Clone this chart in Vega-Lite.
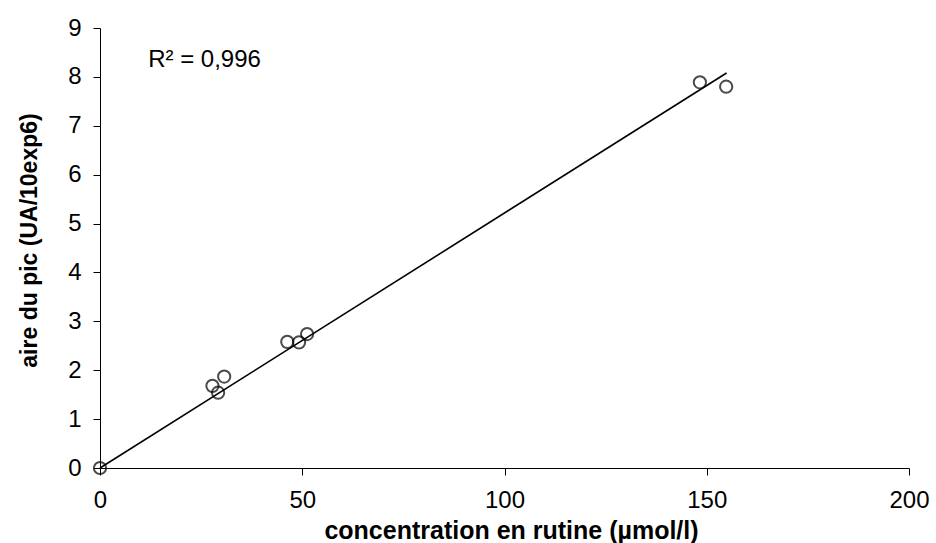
{
  "$schema": "https://vega.github.io/schema/vega-lite/v6.json",
  "autosize": "none",
  "width": 809,
  "height": 440,
  "padding": {"left": 100, "top": 28, "right": 27, "bottom": 75},
  "background": "white",
  "config": {
    "view": {"stroke": null},
    "font": "Liberation Sans",
    "axis": {"grid": false, "domainColor": "#000", "tickColor": "#000", "labelColor": "#000", "titleColor": "#000", "labelFont": "Liberation Sans", "titleFont": "Liberation Sans"}
  },
  "datasets": {
    "points": [
      {"c": 0, "a": 0},
      {"c": 27.8, "a": 1.68},
      {"c": 29.2, "a": 1.54},
      {"c": 30.7, "a": 1.87},
      {"c": 46.3, "a": 2.58},
      {"c": 49.2, "a": 2.57},
      {"c": 51.2, "a": 2.74},
      {"c": 148.3, "a": 7.89},
      {"c": 154.8, "a": 7.8}
    ],
    "fit": [
      {"c": 0, "a": 0},
      {"c": 154.9, "a": 8.08}
    ],
    "label": [
      {"c": 11.9, "a": 8.34, "t": "R² = 0,996"}
    ]
  },
  "layer": [
    {
      "data": {"name": "fit"},
      "mark": {"type": "line", "color": "#000", "strokeWidth": 1.6},
      "encoding": {
        "x": {
          "field": "c", "type": "quantitative",
          "scale": {"domain": [0, 200], "nice": false},
          "axis": {
            "values": [0, 50, 100, 150, 200],
            "title": "concentration en rutine (µmol/l)",
            "titleFontSize": 25, "titleFontWeight": "bold",
            "titleX": 411, "titleY": 62, "titleBaseline": "middle", "titleAnchor": null, "titleAlign": "center",
            "labelFontSize": 24, "labelPadding": 13, "tickSize": 7, "labelFlush": false,
            "domainWidth": 1, "tickWidth": 1
          }
        },
        "y": {
          "field": "a", "type": "quantitative",
          "scale": {"domain": [0, 9], "nice": false},
          "axis": {
            "values": [0, 1, 2, 3, 4, 5, 6, 7, 8, 9],
            "title": "aire du pic (UA/10exp6)",
            "titleFontSize": 23, "titleFontWeight": "bold",
            "titleX": -71, "titleY": 212, "titleAngle": -90, "titleBaseline": "middle", "titleAlign": "center",
            "labelFontSize": 24, "labelPadding": 12, "tickSize": 7, "labelFlush": false,
            "domainWidth": 1, "tickWidth": 1
          }
        }
      }
    },
    {
      "data": {"name": "points"},
      "mark": {"type": "point", "shape": "circle", "filled": false, "color": "#000", "strokeWidth": 2, "size": 150},
      "encoding": {
        "x": {"field": "c", "type": "quantitative"},
        "y": {"field": "a", "type": "quantitative"}
      }
    },
    {
      "data": {"name": "label"},
      "mark": {"type": "text", "align": "left", "baseline": "middle", "fontSize": 24, "color": "#000"},
      "encoding": {
        "x": {"field": "c", "type": "quantitative"},
        "y": {"field": "a", "type": "quantitative"},
        "text": {"field": "t"}
      }
    }
  ]
}
